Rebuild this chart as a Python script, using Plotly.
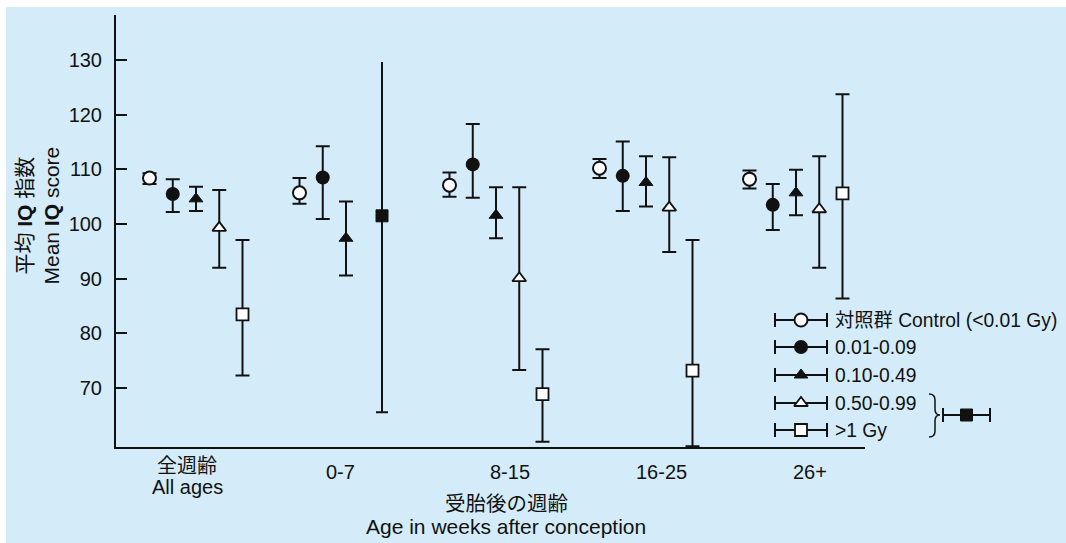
import plotly.graph_objects as go

# ---------------- data ----------------
groups = ["全週齢<br>All ages", "0-7", "8-15", "16-25", "26+"]
series_names = ["対照群 Control (<0.01 Gy)", "0.01-0.09", "0.10-0.49", "0.50-0.99", ">1 Gy"]

control_mean = [108.4, 105.7, 107.1, 110.2, 108.2]
control_low = [107.3, 103.7, 105.0, 108.4, 106.5]
control_high = [109.3, 108.4, 109.4, 111.9, 109.8]

d001_mean = [105.5, 108.5, 110.9, 108.8, 103.5]
d001_low = [102.2, 100.9, 104.8, 102.4, 98.9]
d001_high = [108.2, 114.2, 118.3, 115.1, 107.3]

d010_mean = [104.6, 97.4, 101.6, 107.6, 105.7]
d010_low = [102.4, 90.6, 97.4, 103.2, 101.6]
d010_high = [106.8, 104.1, 106.7, 112.4, 109.9]

d050_mean = [99.3, None, 90.1, 103.0, 102.7]
d050_low = [92.0, None, 73.3, 94.9, 92.0]
d050_high = [106.2, None, 106.7, 112.2, 112.4]

d1_mean = [83.5, None, 68.9, 73.2, 105.6]
d1_low = [72.3, None, 60.2, 59.4, 86.4]
d1_high = [97.1, None, 77.1, 97.1, 123.7]

# combined >=0.50 Gy group (only 0-7 weeks)
combined_groups = ["0-7"]
combined_mean = [101.5]
combined_low = [65.6]
combined_high = [129.6]

y_ticks = [70, 80, 90, 100, 110, 120, 130]

# ---------------- style ----------------
OX, OY = 0, 0
W, H = 1066, 543
BLACK = "#111111"
BG = "#d4ecf9"
FONT = "Liberation Sans, Arial, Noto Sans CJK JP, sans-serif"


def pxx(px):
    return (px - OX) / W


def pxy(py):
    return (OY + H - py) / H


series_offsets = [-0.31, -0.155, 0.0, 0.155, 0.31]
combined_offset = 0.24
label_shift = [-0.06, -0.04, 0.09, 0.10, 0.09]

marker_styles = [
    dict(symbol="circle", size=13, color="white", line=dict(color=BLACK, width=2)),
    dict(symbol="circle", size=14, color=BLACK, line=dict(color=BLACK, width=0)),
    dict(symbol="triangle-up", size=12, color=BLACK, line=dict(color=BLACK, width=1)),
    dict(symbol="triangle-up", size=12, color="white", line=dict(color=BLACK, width=1.8)),
    dict(symbol="square", size=12, color="white", line=dict(color=BLACK, width=1.8)),
]
combined_style = dict(symbol="square", size=12, color=BLACK, line=dict(color=BLACK, width=1))

# plot area in page pixels
PL, PR, PT, PB = 116, 865, 15, 447
X_RANGE = [-0.5333, 4.46]
Y_RANGE = [59.25, 138.2]

fig = go.Figure()

all_series = [
    (control_mean, control_low, control_high),
    (d001_mean, d001_low, d001_high),
    (d010_mean, d010_low, d010_high),
    (d050_mean, d050_low, d050_high),
    (d1_mean, d1_low, d1_high),
]

for k, (m, lo, hi) in enumerate(all_series):
    xs, ys, up, dn = [], [], [], []
    for i, (mv, lv, hv) in enumerate(zip(m, lo, hi)):
        if mv is None:
            continue
        xs.append(i + series_offsets[k])
        ys.append(mv)
        up.append(hv - mv)
        dn.append(mv - lv)
    fig.add_trace(go.Scatter(
        x=xs, y=ys, mode="markers", name=series_names[k], showlegend=False,
        marker=marker_styles[k],
        error_y=dict(type="data", symmetric=False, array=up, arrayminus=dn,
                     color=BLACK, thickness=2, width=7),
        cliponaxis=False,
    ))

# combined group: upper whisker without cap, lower whisker with cap
cx = [groups.index(g) + combined_offset for g in combined_groups]
fig.add_trace(go.Scatter(
    x=cx, y=combined_mean, mode="markers", showlegend=False,
    marker=dict(size=1, color="rgba(0,0,0,0)"),
    error_y=dict(type="data", symmetric=False,
                 array=[h - m for h, m in zip(combined_high, combined_mean)],
                 arrayminus=[0 for _ in combined_mean],
                 color=BLACK, thickness=2, width=0),
))
fig.add_trace(go.Scatter(
    x=cx, y=combined_mean, mode="markers", showlegend=False,
    marker=combined_style,
    error_y=dict(type="data", symmetric=False,
                 array=[0 for _ in combined_mean],
                 arrayminus=[m - l for m, l in zip(combined_mean, combined_low)],
                 color=BLACK, thickness=2, width=6),
))

# ---------------- custom legend (page-pixel overlay axes) ----------------
leg_rows = [320, 347, 375, 403, 430]
leg_key_x = 801
leg_half = 26
leg_text_x = 833
for k in range(5):
    fig.add_trace(go.Scatter(
        x=[leg_key_x], y=[leg_rows[k]], xaxis="x2", yaxis="y2", mode="markers",
        showlegend=False, hoverinfo="skip",
        marker=marker_styles[k],
        error_x=dict(type="data", array=[leg_half], color=BLACK, thickness=2, width=7),
    ))
fig.add_trace(go.Scatter(
    x=[966.5], y=[415], xaxis="x2", yaxis="y2", mode="markers",
    showlegend=False, hoverinfo="skip",
    marker=combined_style,
    error_x=dict(type="data", array=[23.5], color=BLACK, thickness=2, width=7),
))

annotations = []
for k in range(5):
    annotations.append(dict(
        x=pxx(leg_text_x), y=pxy(leg_rows[k]), xref="paper", yref="paper",
        text=series_names[k], showarrow=False, xanchor="left", yanchor="middle",
        font=dict(family=FONT, size=19.3, color=BLACK),
    ))

# category labels placed on the x scale
for i, g in enumerate(groups):
    lines = g.split("<br>")
    if len(lines) == 1:
        ys_px = [471.5]
    else:
        ys_px = [466, 487]
    for line, ypx in zip(lines, ys_px):
        annotations.append(dict(
            x=i + label_shift[i], y=pxy(ypx), xref="x", yref="paper",
            text=line, showarrow=False, xanchor="center", yanchor="middle",
            font=dict(family=FONT, size=20, color=BLACK),
        ))

# axis titles
annotations.append(dict(
    x=pxx(37.5), y=pxy(216), xref="paper", yref="paper",
    text="平均 <b>IQ</b> 指数<br>Mean <b>IQ</b> score", textangle=-90, showarrow=False,
    xanchor="center", yanchor="middle",
    font=dict(family=FONT, size=21, color=BLACK),
))
annotations.append(dict(
    x=pxx(506), y=pxy(503), xref="paper", yref="paper",
    text="受胎後の週齢", showarrow=False, xanchor="center", yanchor="middle",
    font=dict(family=FONT, size=20.5, color=BLACK),
))
annotations.append(dict(
    x=pxx(506), y=pxy(526), xref="paper", yref="paper",
    text="Age in weeks after conception", showarrow=False, xanchor="center", yanchor="middle",
    font=dict(family=FONT, size=21, color=BLACK),
))

shapes = [
    dict(type="rect", xref="paper", yref="paper", x0=pxx(6), x1=1.01, y0=-0.01, y1=pxy(7),
         fillcolor=BG, line=dict(width=0), layer="below"),
    dict(type="path", xref="x2", yref="y2",
         path="M 929,394 Q 935,394 935,400 L 935,409 Q 935,415 940,415 "
              "Q 935,415 935,421 L 935,431 Q 935,437 929,437",
         line=dict(color=BLACK, width=1.5)),
]

fig.update_layout(
    width=W, height=H, margin=dict(l=0, r=0, t=0, b=0),
    paper_bgcolor="white", plot_bgcolor="rgba(0,0,0,0)",
    font=dict(family=FONT, size=19, color=BLACK),
    showlegend=False,
    xaxis=dict(
        domain=[pxx(PL), pxx(PR)], range=X_RANGE, showgrid=False, zeroline=False,
        showline=True, linecolor=BLACK, linewidth=2, ticks="",
        showticklabels=False, fixedrange=True,
    ),
    yaxis=dict(
        domain=[pxy(PB), pxy(PT)], range=Y_RANGE, showgrid=False, zeroline=False,
        showline=True, linecolor=BLACK, linewidth=2, ticks="inside", ticklen=11,
        tickwidth=2, tickcolor=BLACK, tickvals=y_ticks,
        tickfont=dict(family=FONT, size=20, color=BLACK),
        ticklabelstandoff=8, fixedrange=True,
    ),
    xaxis2=dict(domain=[0, 1], range=[OX, OX + W], visible=False, anchor="y2", fixedrange=True),
    yaxis2=dict(domain=[0, 1], range=[OY + H, OY], visible=False, anchor="x2", fixedrange=True),
    annotations=annotations,
    shapes=shapes,
)

fig.write_html(
    "out.html",
    config={"displayModeBar": False},
    post_script=(
        "document.body.style.margin='0';"
        "document.body.style.overflow='hidden';"
        "document.body.style.background='" + BG + "';"
        "document.documentElement.style.background='" + BG + "';"
    ),
)
